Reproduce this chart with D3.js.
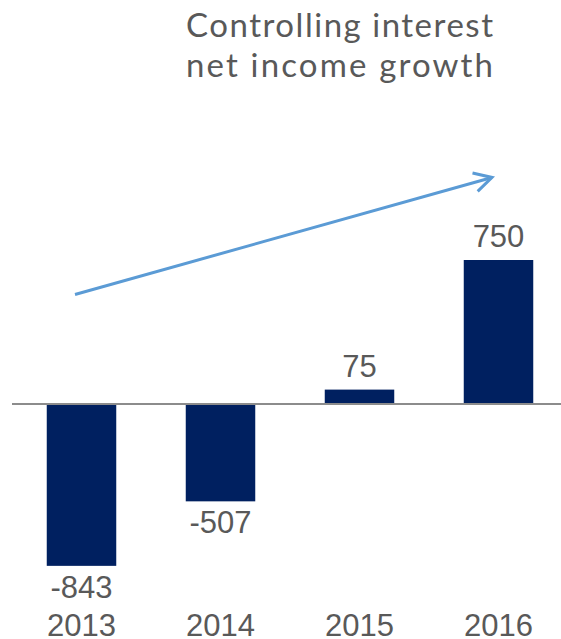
<!DOCTYPE html>
<html>
<head>
<meta charset="utf-8">
<script src="https://cdn.jsdelivr.net/npm/d3@7"></script>
<style>
  html, body { margin: 0; padding: 0; background: #ffffff; }
  svg { display: block; }
</style>
</head>
<body>
<svg id="chart" width="561" height="639"></svg>
<script>
// Controlling interest net income, by year
const years = ["2013", "2014", "2015", "2016"];
const netIncome = [-843, -507, 75, 750];
const titleLines = ["Controlling interest", "net income growth"];
// Trend arrow, expressed in chart units (year band + value)
const trendFrom = { year: "2013", value: 570 };
const trendTo = { year: "2016", value: 1180 };

const svg = d3.select("#chart");
const navy = "#002060";
const textGray = "#595959";

const x = d3.scaleBand()
  .domain(years)
  .range([12, 568])
  .paddingInner(0.5)
  .paddingOuter(0.25);

const y = d3.scaleLinear()
  .domain([-1000, 1500])
  .range([596, 116]);

const data = years.map((yr, i) => ({ year: yr, value: netIncome[i] }));

// Title, each line stretched to the same width
const title = svg.append("g")
  .attr("font-family", "Lato, 'Noto Sans', sans-serif")
  .attr("font-size", 33)
  .attr("fill", textGray);
title.selectAll("text")
  .data(titleLines)
  .join("text")
  .attr("x", 186)
  .attr("y", (d, i) => 37 + i * 40)
  .attr("textLength", 307)
  .attr("lengthAdjust", "spacing")
  .text(d => d);

// Bars
svg.append("g")
  .selectAll("rect")
  .data(data)
  .join("rect")
  .attr("x", d => x(d.year))
  .attr("width", x.bandwidth())
  .attr("y", d => y(Math.max(0, d.value)))
  .attr("height", d => Math.abs(y(d.value) - y(0)))
  .attr("fill", navy);

// Zero baseline
svg.append("line")
  .attr("x1", 12)
  .attr("x2", 568)
  .attr("y1", y(0))
  .attr("y2", y(0))
  .attr("stroke", "#8c8c8c")
  .attr("stroke-width", 2);

// Value labels
svg.append("g")
  .selectAll("text")
  .data(data)
  .join("text")
  .attr("x", d => x(d.year) + x.bandwidth() / 2)
  .attr("y", d => d.value >= 0 ? y(d.value) - 13 : y(d.value) + 32)
  .attr("text-anchor", "middle")
  .attr("font-family", "'Liberation Sans', Arial, sans-serif")
  .attr("font-size", 31)
  .attr("fill", textGray)
  .text(d => d.value);

// Year labels
svg.append("g")
  .selectAll("text")
  .data(years)
  .join("text")
  .attr("x", d => x(d) + x.bandwidth() / 2)
  .attr("y", 636)
  .attr("text-anchor", "middle")
  .attr("font-family", "'Liberation Sans', Arial, sans-serif")
  .attr("font-size", 31)
  .attr("fill", textGray)
  .text(d => d);

// Trend arrow
const blue = "#5b9bd5";
const ax1 = x(trendFrom.year) + x.bandwidth() / 2 - 6.5;
const ay1 = y(trendFrom.value);
const ax2 = x(trendTo.year) + x.bandwidth() / 2 - 6.5;
const ay2 = y(trendTo.value);
svg.append("line")
  .attr("x1", ax1).attr("y1", ay1)
  .attr("x2", ax2).attr("y2", ay2)
  .attr("stroke", blue)
  .attr("stroke-width", 3);
const ang = Math.atan2(ay2 - ay1, ax2 - ax1);
const headLen = 20, headSpread = 0.5;
const p1 = [ax2 - headLen * Math.cos(ang - headSpread), ay2 - headLen * Math.sin(ang - headSpread)];
const p2 = [ax2 - headLen * Math.cos(ang + headSpread), ay2 - headLen * Math.sin(ang + headSpread)];
svg.append("path")
  .attr("d", d3.line()([p1, [ax2, ay2], p2]))
  .attr("fill", "none")
  .attr("stroke", blue)
  .attr("stroke-width", 3)
  .attr("stroke-linejoin", "miter");
</script>
</body>
</html>
